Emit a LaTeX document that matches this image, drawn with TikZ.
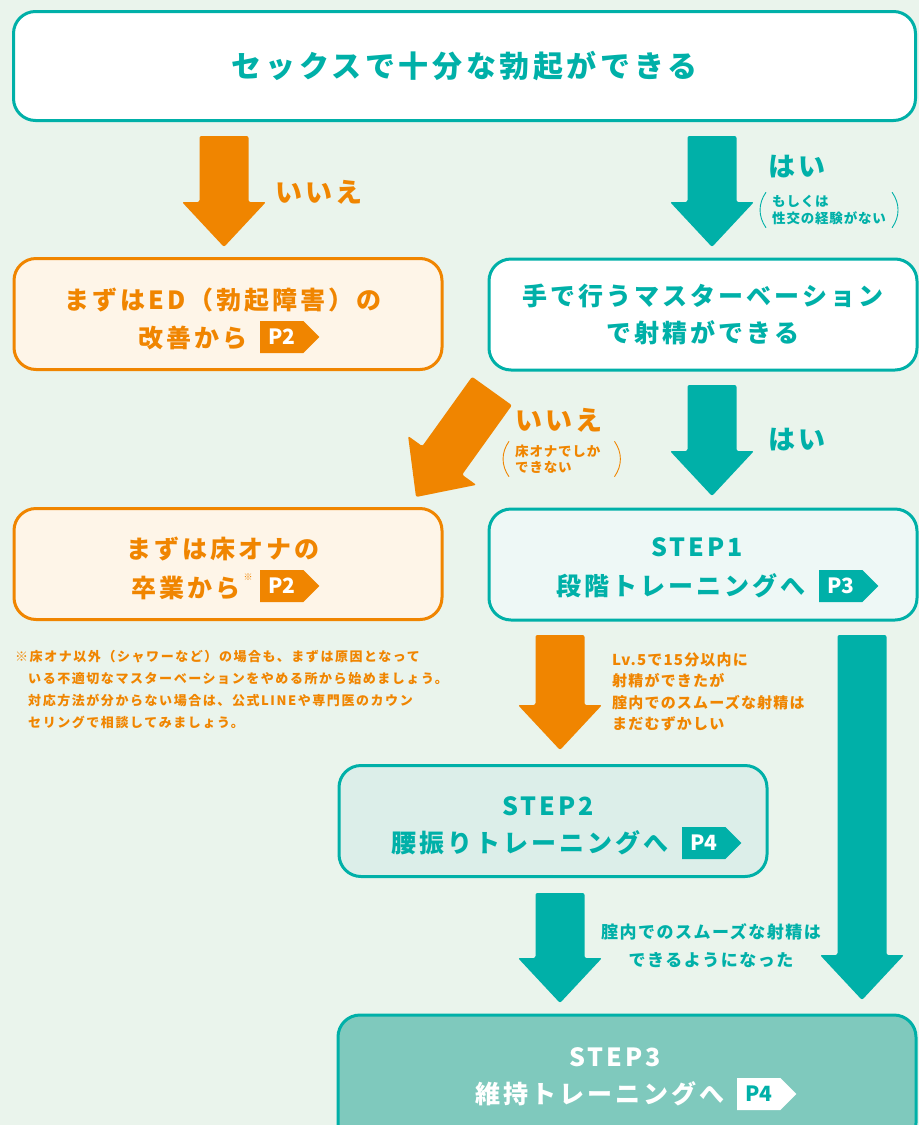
\documentclass[tikz,border=0pt]{standalone}
\usepackage{fontspec}
\setmainfont{Noto Sans CJK JP}
\usetikzlibrary{positioning,shapes.symbols,calc}
\definecolor{tealc}{RGB}{0,176,168}
\definecolor{orangec}{RGB}{240,133,0}
\definecolor{bgc}{RGB}{234,244,236}
\definecolor{orfill}{RGB}{254,245,232}
\definecolor{sonefill}{RGB}{238,248,246}
\definecolor{stwofill}{RGB}{220,238,233}
\definecolor{sthreefill}{RGB}{127,201,189}
% block arrow: colour, tail, tip
\newcommand{\blockarrow}[3]{%
	\coordinate (ba-h) at ($(#3)!45pt!(#2)$);
	\fill[#1,rounded corners=2pt] ($(#2)!24.5pt!90:(#3)$) -- ($(ba-h)!24.5pt!90:(#3)$) -- ($(ba-h)!42pt!90:(#3)$) -- (#3) -- ($(ba-h)!42pt!-90:(#3)$) -- ($(ba-h)!24.5pt!-90:(#3)$) -- ($(#2)!24.5pt!-90:(#3)$) -- cycle;
}
\begin{document}
\begin{tikzpicture}[x=1pt,y=-1pt,
	box/.style={draw=#1,line width=3pt,rounded corners=22pt,minimum width=428pt,minimum height=111pt},
	tag/.style={signal,signal to=east,fill=#1,text=white,anchor=west,inner xsep=8pt,inner ysep=0pt,minimum height=32pt,font=\bfseries\fontsize{21}{21}\selectfont},
	big/.style={text=#1,inner sep=0pt,align=center,font=\bfseries\fontsize{25}{37}\selectfont\addfontfeatures{LetterSpace=12}},
	ans/.style={text=#1,inner sep=0pt,font=\bfseries\fontsize{27}{30}\selectfont\addfontfeatures{LetterSpace=12}},
	small/.style={text=#1,inner sep=0pt,align=left,font=\bfseries\fontsize{13.5}{16.5}\selectfont\addfontfeatures{LetterSpace=6}},
	paren/.style={draw=#1,line width=0.9pt},
	]
	\clip (0,0) rectangle (919,1125);
	\fill[bgc] (0,0) rectangle (919,1125);
	%boxes
	\node[box=tealc,fill=white,minimum width=902pt,minimum height=109pt,text=tealc,font=\bfseries\fontsize{30}{34}\selectfont\addfontfeatures{LetterSpace=12}] (sex) at (464.5,66) {セックスで十分な勃起ができる};
	\node[box=orangec,fill=orfill] (ed) at (228,314) {};
	\node[box=tealc,fill=white,big=tealc] (hand) at (703,314.5) {手で行うマスターベーション\\で射精ができる};
	\node[box=orangec,fill=orfill] (floor) at (228,564) {};
	\node[box=tealc,fill=sonefill] (step1) at (703,564.5) {};
	\node[box=tealc,fill=stwofill] (step2) at (553,821) {};
	\node[box=tealc,fill=sthreefill,minimum width=578pt,minimum height=130pt] (step3) at (627,1080) {};
	%box texts
	\node[big=orangec] (ed-a) at (223,300) {まずはED（勃起障害）の};
	\node[big=orangec] (ed-b) at (193,338) {改善から};
	\node[tag=orangec] (ed-p) at (260,337) {P2};
	\node[big=orangec] (floor-a) at (223,549) {まずは床オナの};
	\node[big=orangec] (floor-b) at (186,588) {卒業から};
	\node[text=orangec,inner sep=0pt,font=\bfseries\fontsize{9}{9}\selectfont] (floor-m) at (248,577) {※};
	\node[tag=orangec] (floor-p) at (260,586) {P2};
	\node[big=tealc] (step1-a) at (697,547) {STEP\hspace{3pt}1};
	\node[big=tealc] (step1-b) at (681,586) {段階トレーニングへ};
	\node[tag=tealc] (step1-p) at (819,586) {P3};
	\node[big=tealc] (step2-a) at (548,806) {STEP\hspace{3pt}2};
	\node[big=tealc] (step2-b) at (530,843) {腰振りトレーニングへ};
	\node[tag=tealc] (step2-p) at (682,843) {P4};
	\node[big=white] (step3-a) at (615,1057) {STEP\hspace{3pt}3};
	\node[big=white] (step3-b) at (600,1094) {維持トレーニングへ};
	\node[tag=white,text=tealc] (step3-p) at (737,1094) {P4};
	%arrows
	\coordinate (no1-s) at (224,136);
	\coordinate (no1-e) at (224,247);
	\blockarrow{orangec}{no1-s}{no1-e}
	\coordinate (yes1-s) at (712,136);
	\coordinate (yes1-e) at (712,247);
	\blockarrow{tealc}{yes1-s}{yes1-e}
	\coordinate (no2-s) at (492,391);
	\coordinate (no2-e) at (416,497);
	\blockarrow{orangec}{no2-s}{no2-e}
	\coordinate (yes2-s) at (712,385);
	\coordinate (yes2-e) at (712,496);
	\blockarrow{tealc}{yes2-s}{yes2-e}
	\coordinate (lv-s) at (560,635);
	\coordinate (lv-e) at (560,750);
	\blockarrow{orangec}{lv-s}{lv-e}
	\coordinate (skip-s) at (862,635);
	\coordinate (skip-e) at (862,1000);
	\blockarrow{tealc}{skip-s}{skip-e}
	\coordinate (ok-s) at (560,893);
	\coordinate (ok-e) at (560,1003);
	\blockarrow{tealc}{ok-s}{ok-e}
	%arrow labels
	\node[ans=orangec] (no1-t) at (319,192) {いいえ};
	\node[ans=tealc] (yes1-t) at (797,167) {はい};
	\node[small=tealc,anchor=west] (yes1-n) at (772,210) {もしくは\\性交の経験がない};
	\draw[paren=tealc] ([xshift=-6pt,yshift=3pt]yes1-n.north west) to[bend right=35] ([xshift=-6pt,yshift=-3pt]yes1-n.south west);
	\draw[paren=tealc] ([xshift=6pt,yshift=3pt]yes1-n.north east) to[bend left=35] ([xshift=6pt,yshift=-3pt]yes1-n.south east);
	\node[ans=orangec] (no2-t) at (559,420) {いいえ};
	\node[small=orangec,anchor=west] (no2-n) at (515,459) {床オナでしか\\できない};
	\draw[paren=orangec] ([xshift=-6pt,yshift=3pt]no2-n.north west) to[bend right=35] ([xshift=-6pt,yshift=-3pt]no2-n.south west);
	\draw[paren=orangec] ([xshift=14pt,yshift=3pt]no2-n.north east) to[bend left=35] ([xshift=14pt,yshift=-3pt]no2-n.south east);
	\node[ans=tealc] (yes2-t) at (797,440) {はい};
	\node[text=orangec,inner sep=0pt,align=left,anchor=north west,font=\bfseries\fontsize{15}{21.5}\selectfont\addfontfeatures{LetterSpace=8}] (lv-t) at (612,652) {Lv.5で15分以内に\\射精ができたが\\腟内でのスムーズな射精は\\まだむずかしい};
	\node[text=tealc,inner sep=0pt,align=center,font=\bfseries\fontsize{17}{28}\selectfont\addfontfeatures{LetterSpace=9}] (ok-t) at (711,946) {腟内でのスムーズな射精は\\できるようになった};
	%footnote
	\node[text=orangec,inner sep=0pt,align=left,anchor=north west,font=\bfseries\fontsize{13}{22}\selectfont\addfontfeatures{LetterSpace=12}] (note) at (15,650) {※床オナ以外（シャワーなど）の場合も、まずは原因となって\\\phantom{※}いる不適切なマスターベーションをやめる所から始めましょう。\\\phantom{※}対応方法が分からない場合は、公式LINEや専門医のカウン\\\phantom{※}セリングで相談してみましょう。};
\end{tikzpicture}
\end{document}
